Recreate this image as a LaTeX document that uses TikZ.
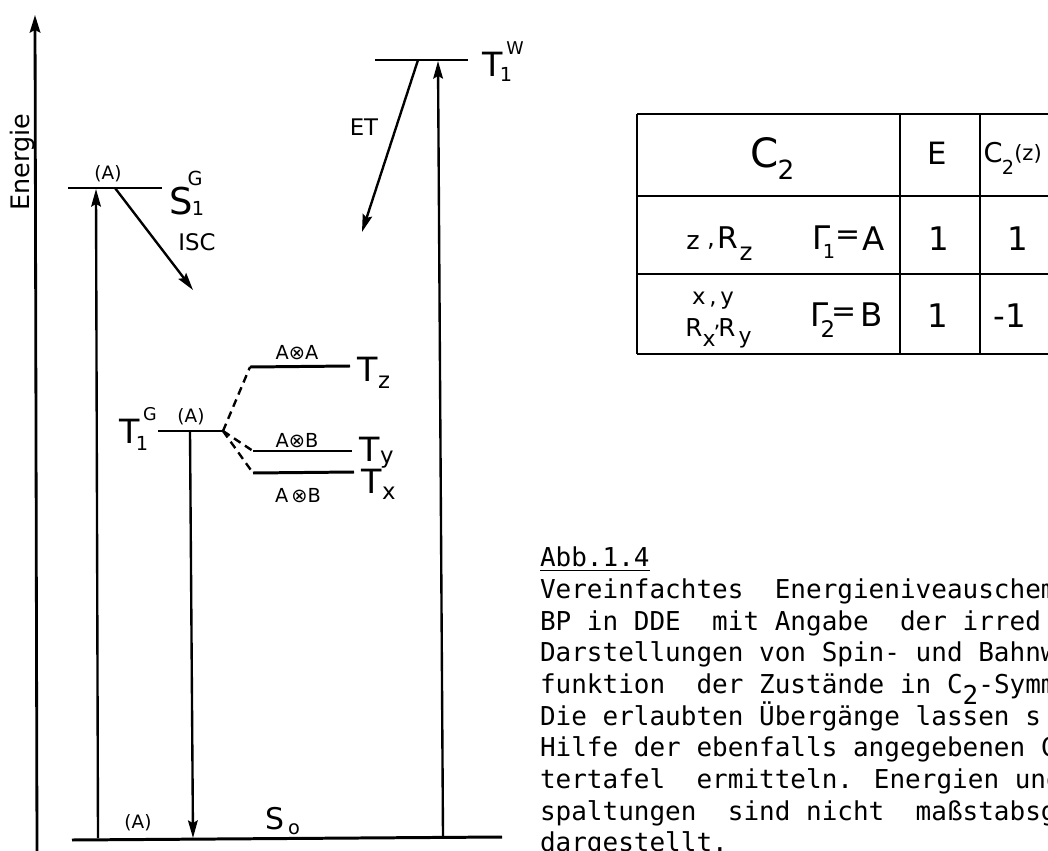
\documentclass[tikz,border=0pt]{standalone}
\usepackage{fontspec}
\setmainfont{DejaVu Sans}
\newfontfamily\monof{DejaVu Sans Mono}
\usetikzlibrary{arrows.meta}
\newcommand\fsz[1]{\fontsize{#1}{#1}\selectfont}
\begin{document}
\begin{tikzpicture}[x=0.02cm,y=-0.02cm,
  levelline/.style={line width=1.7pt},
  arr/.style={line width=1.35pt,-{Stealth[length=10pt,width=5.5pt,inset=1.5pt]}},
  dsh/.style={line width=1.35pt,dash pattern=on 4.5pt off 3pt},
  tbl/.style={line width=1.4pt},
  lbl/.style={inner sep=0,outer sep=0,anchor=center},
  captxt/.style={inner sep=0,outer sep=0,anchor=base west,font=\monof\fsz{14.8}},
]
\useasboundingbox (0,0) rectangle (1048,851);
\clip (0,0) rectangle (1048,851);

% ---- axis
\coordinate (ax0) at (37,851); \coordinate (ax1) at (35,15);
\draw[line width=1.6pt,-{Stealth[length=10pt,width=6pt,inset=1.5pt]}] (ax0) -- (ax1);
\node[lbl,font=\fsz{14.5},rotate=90] (en) at (22,162) {Energie};

% ---- levels
\coordinate (s1a) at (68,188);  \coordinate (s1b) at (162,188);
\coordinate (twa) at (375,60);  \coordinate (twb) at (468,60);
\coordinate (tga) at (158,431); \coordinate (tgb) at (223,431);
\coordinate (tza) at (250,367); \coordinate (tzb) at (350,366);
\coordinate (tya) at (253,451); \coordinate (tyb) at (352,451);
\coordinate (txa) at (253,473); \coordinate (txb) at (354,472);
\coordinate (s0a) at (72,840);  \coordinate (s0b) at (502,837);
\draw[levelline] (s1a) -- (s1b);
\draw[levelline] (twa) -- (twb);
\draw[levelline] (tga) -- (tgb);
\draw[levelline] (tza) -- (tzb);
\draw[levelline] (tya) -- (tyb);
\draw[levelline] (txa) -- (txb);
\draw[levelline] (s0a) -- (s0b);
\draw[dsh] (tgb) -- (tza);
\draw[dsh] (tgb) -- (tya);
\draw[dsh] (tgb) -- (txa);

% ---- transitions
\coordinate (e1s) at (98,838);  \coordinate (e1t) at (96,189);
\coordinate (isc0) at (115,188); \coordinate (isc1) at (193,290);
\coordinate (p0) at (190,431);  \coordinate (p1) at (193,838);
\coordinate (et0) at (418,60);  \coordinate (et1) at (362,232);
\coordinate (w0) at (443,837);  \coordinate (w1) at (438,61);
\draw[arr] (e1s) -- (e1t);
\draw[arr] (isc0) -- (isc1);
\draw[arr] (p0) -- (p1);
\draw[arr] (et0) -- (et1);
\draw[arr] (w0) -- (w1);

% ---- level labels
\node[lbl,font=\fsz{10.5}] (aS1) at (108,174) {(A)};
\node[lbl,font=\fsz{21}] (S1) at (181,201) {S};
\node[lbl,font=\fsz{11}] (S1g) at (195,178) {G};
\node[lbl,font=\fsz{11}] (S1i) at (198,208) {1};
\node[lbl,font=\fsz{13}] (isc) at (197,242) {ISC};

\node[lbl,font=\fsz{19}] (TW) at (493,64) {T};
\node[lbl,font=\fsz{10}] (TWw) at (515,48) {W};
\node[lbl,font=\fsz{11}] (TWi) at (506,74) {1};
\node[lbl,font=\fsz{13}] (et) at (364,127) {ET};

\node[lbl,font=\fsz{19}] (TG) at (130,431) {T};
\node[lbl,font=\fsz{10}] (TGg) at (150,414) {G};
\node[lbl,font=\fsz{11}] (TGi) at (142,443) {1};
\node[lbl,font=\fsz{10.5}] (aTG) at (191,417) {(A)};

\node[lbl,font=\fsz{19}] (Tz) at (368,369) {T};
\node[lbl,font=\fsz{13}] (Tzz) at (384,382) {z};
\node[lbl,font=\fsz{11}] (AA) at (297,353) {A⊗A};

\node[lbl,font=\fsz{19}] (Ty) at (370,449) {T};
\node[lbl,font=\fsz{13}] (Tyy) at (387,460) {y};
\node[lbl,font=\fsz{11}] (AB1) at (297,441) {A⊗B};

\node[lbl,font=\fsz{19}] (Tx) at (372,481) {T};
\node[lbl,font=\fsz{13}] (Txx) at (389,493) {x};
\node[lbl,font=\fsz{11}] (AB2) at (298,496) {A\,⊗B};

\node[lbl,font=\fsz{17}] (S0) at (275,819) {S};
\node[lbl,font=\fsz{11}] (S0o) at (294,829) {o};
\node[lbl,font=\fsz{10.5}] (aS0) at (138,823) {(A)};

% ---- character table
\draw[tbl] (637,114) -- (1060,114);
\draw[tbl] (637,196) -- (1060,196);
\draw[tbl] (637,274) -- (1060,274);
\draw[tbl] (637,354) -- (1060,354);
\draw[tbl] (637,114) -- (637,354);
\draw[tbl] (900,114) -- (900,354);
\draw[tbl] (980,114) -- (980,354);

\node[lbl,font=\fsz{23}] (hC) at (765,153) {C};
\node[lbl,font=\fsz{15}] (hC2) at (786,170) {2};
\node[lbl,font=\fsz{17.5}] (hE) at (937,153) {E};
\node[lbl,font=\fsz{15.5}] (hCz) at (993,153) {C};
\node[lbl,font=\fsz{11}] (hCz2) at (1008,167) {2};
\node[lbl,font=\fsz{12}] (hCzz) at (1028,154) {(z)};

\node[lbl,font=\fsz{14.5}] (r1z) at (693,243) {z};
\node[lbl,font=\fsz{14}] (r1c) at (711,246) {,};
\node[lbl,font=\fsz{17}] (r1R) at (728,238) {R};
\node[lbl,font=\fsz{14}] (r1Rz) at (746,254) {z};
\node[lbl,font=\fsz{18.5}] (r1G) at (822,238) {Γ};
\node[lbl,font=\fsz{11}] (r1Gi) at (829,251) {1};
\node[lbl,font=\fsz{17}] (r1eq) at (848,238) {=};
\node[lbl,font=\fsz{18.5}] (r1A) at (874,239) {A};
\node[lbl,font=\fsz{18.5}] (r1e) at (939,239) {1};
\node[lbl,font=\fsz{18.5}] (r1c2) at (1018,239) {1};

\node[lbl,font=\fsz{13}] (r2xy) at (713,301) {x\,,\,y};
\node[lbl,font=\fsz{14}] (r2R1) at (694,328) {R};
\node[lbl,font=\fsz{12.5}] (r2x) at (709,340) {x};
\node[lbl,font=\fsz{12}] (r2c) at (717,333) {'};
\node[lbl,font=\fsz{14}] (r2R2) at (727,328) {R};
\node[lbl,font=\fsz{12.5}] (r2y) at (745,340) {y};
\node[lbl,font=\fsz{18.5}] (r2G) at (820,315) {Γ};
\node[lbl,font=\fsz{13}] (r2Gi) at (828,329) {2};
\node[lbl,font=\fsz{17}] (r2eq) at (844,315) {=};
\node[lbl,font=\fsz{18.5}] (r2B) at (872,315) {B};
\node[lbl,font=\fsz{18.5}] (r2e) at (938,316) {1};
\node[lbl,font=\fsz{18.5}] (r2c2) at (1010,316) {-1};

% ---- caption
\node[captxt] (abb) at (540,566) {Abb.1.4};
\draw[line width=0.9pt] ([yshift=-2.5pt]abb.base west) -- ([yshift=-2.5pt]abb.base east);
\node[captxt] (c1) at (540,598) {Vereinfachtes ~Energieniveauschem};
\node[captxt] (c2) at (540,630) {BP in DDE ~mit Angabe ~der irred};
\node[captxt] (c3) at (540,661) {Darstellungen von Spin- und Bahnw};
\node[captxt] (c4) at (540,693) {funktion ~der Zustände in C\raisebox{-0.45em}{2}-Symm};
\node[captxt] (c5) at (540,725) {Die erlaubten Übergänge lassen s};
\node[captxt] (c6) at (540,756) {Hilfe der ebenfalls angegebenen C};
\node[captxt] (c7) at (540,788) {tertafel ~ermitteln. Energien und};
\node[captxt] (c8) at (540,820) {spaltungen ~sind nicht ~maßstabsg};
\node[captxt] (c9) at (540,851) {dargestellt.};
\end{tikzpicture}
\end{document}
